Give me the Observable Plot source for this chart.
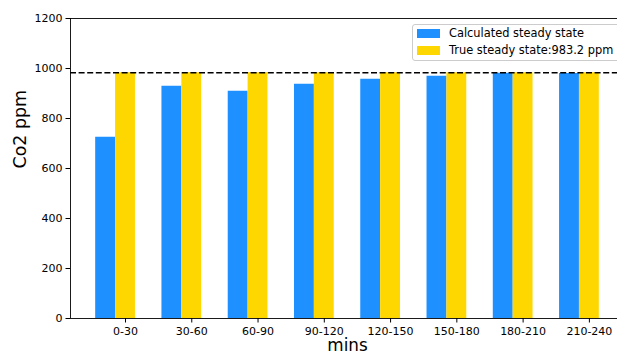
<!DOCTYPE html>
<html><head><meta charset="utf-8">
<script src="https://cdn.jsdelivr.net/npm/d3@7"></script>
<script src="https://cdn.jsdelivr.net/npm/@observablehq/plot@0.6"></script>
<style>
html,body{margin:0;padding:0;overflow:hidden;background:#fff;}
#wrap{position:relative;width:617px;height:356px;overflow:hidden;}
#wrap svg{display:block;}
.legend{position:absolute;left:412px;top:24px;width:240px;height:35px;border:1px solid #cccccc;border-radius:3px;background:rgba(255,255,255,0.8);font-family:"DejaVu Sans";font-size:11.4px;color:#000;}
.sw{position:absolute;left:4px;width:23px;height:9px;}
.lt{position:absolute;left:36px;line-height:13px;white-space:nowrap;}
</style></head>
<body>
<div id="wrap"></div>
<script>
const categories = ["0-30","30-60","60-90","90-120","120-150","150-180","180-210","210-240"];
const calculated = [725, 929, 909, 937, 957, 969, 981, 980];
const trueSteady = [983.2, 983.2, 983.2, 983.2, 983.2, 983.2, 983.2, 983.2];
const trueLevel = 983.2;
const yTicks = [0, 200, 400, 600, 800, 1000, 1200];
const seriesNames = ["Calculated steady state", "True steady state:983.2 ppm"];
const colors = ["#1e90ff", "#ffd700"];

const barW = 0.3;
const rows = categories.flatMap((c, i) => [
  {i, s: seriesNames[0], v: calculated[i], x1: i - 1.5 * barW, x2: i - 0.5 * barW},
  {i, s: seriesNames[1], v: trueSteady[i], x1: i - 0.5 * barW, x2: i + 0.5 * barW}
]);
const xMin = -0.83, xMax = 7.53;

const chart = Plot.plot({
  width: 617, height: 356,
  marginTop: 18, marginBottom: 38, marginLeft: 70, marginRight: 0,
  style: {fontFamily: "DejaVu Sans", fontSize: "11px", color: "#000", background: "#fff"},
  x: {type: "linear", domain: [xMin, xMax], range: [70, 624]},
  y: {domain: [0, 1200]},
  color: {domain: seriesNames, range: colors},
  marks: [
    Plot.rectY(rows, {x1: "x1", x2: "x2", y1: 0, y2: "v", fill: "s"}),
    Plot.ruleY([trueLevel], {stroke: "#000", strokeWidth: 1.6, strokeDasharray: "6,2.6"}),
    Plot.ruleY([0, 1200], {stroke: "#000", strokeWidth: 0.9}),
    Plot.ruleX([xMin], {stroke: "#000", strokeWidth: 0.9}),
    Plot.axisX({ticks: d3.range(categories.length), tickFormat: i => categories[i], tickSize: 4.5, tickPadding: 4, label: null}),
    Plot.axisY({ticks: yTicks, tickFormat: d => String(d), tickSize: 4.5, tickPadding: 3.5, label: null}),
    Plot.text(["Co2 ppm"], {frameAnchor: "left", dx: -50.5, rotate: -90, fontSize: 17.4, fill: "#000"}),
    Plot.text(["mins"], {frameAnchor: "bottom", dy: 32.5, dx: 3.5, fontSize: 16.8, fill: "#000"})
  ]
});
const wrap = document.getElementById("wrap");
wrap.appendChild(chart);

const legend = document.createElement("div");
legend.className = "legend";
seriesNames.forEach((name, k) => {
  const sw = document.createElement("div");
  sw.className = "sw";
  sw.style.top = (4 + 17 * k) + "px";
  sw.style.background = colors[k];
  const lt = document.createElement("div");
  lt.className = "lt";
  lt.style.top = (2 + 17 * k) + "px";
  lt.textContent = name;
  legend.appendChild(sw);
  legend.appendChild(lt);
});
wrap.appendChild(legend);
</script>
</body></html>
